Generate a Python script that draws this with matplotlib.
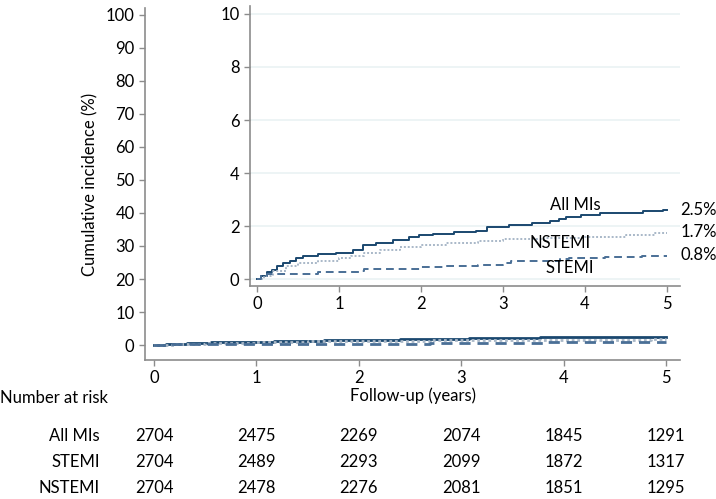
import matplotlib.pyplot as plt
from matplotlib.transforms import blended_transform_factory

plt.rcParams['font.family'] = ['Lato', 'DejaVu Sans']

# -------- data -------- #
years = [0, 1, 2, 3, 4, 5]
groups = ['All MIs', 'STEMI', 'NSTEMI']
end_labels = ['2.5%', '1.7%', '0.8%']

# step curves: event times (years) and cumulative incidence (%)
all_t = [0, 0.05, 0.12, 0.18, 0.24, 0.32, 0.40, 0.48, 0.56, 0.75, 0.97, 1.17, 1.29,
         1.45, 1.66, 1.86, 1.98, 2.15, 2.40, 2.67, 2.80, 3.08, 3.35, 3.57, 3.68,
         3.77, 3.95, 4.18, 4.71, 4.95, 5.0]
all_y = [0, 0.12, 0.25, 0.35, 0.48, 0.62, 0.70, 0.79, 0.88, 0.93, 0.98, 1.10, 1.29,
         1.38, 1.48, 1.58, 1.65, 1.70, 1.76, 1.83, 1.95, 2.04, 2.10, 2.20, 2.28,
         2.35, 2.40, 2.48, 2.56, 2.59, 2.59]

stemi_t = [0, 0.05, 0.12, 0.75, 1.25, 1.30, 1.60, 2.00, 2.30, 2.70, 3.00, 3.10,
           3.70, 3.80, 4.25, 4.70, 5.0]
stemi_y = [0, 0.10, 0.20, 0.25, 0.30, 0.38, 0.40, 0.45, 0.48, 0.52, 0.60, 0.68,
           0.75, 0.80, 0.83, 0.88, 0.88]

nstemi_t = [0, 0.08, 0.20, 0.35, 0.50, 0.75, 1.00, 1.15, 1.30, 1.50, 1.75, 2.00,
            2.30, 2.70, 3.00, 3.50, 4.00, 4.50, 4.85, 5.0]
nstemi_y = [0, 0.12, 0.30, 0.48, 0.60, 0.70, 0.80, 0.88, 1.00, 1.10, 1.20, 1.30,
            1.36, 1.45, 1.50, 1.55, 1.60, 1.65, 1.75, 1.75]

risk_all = [2704, 2475, 2269, 2074, 1845, 1291]
risk_stemi = [2704, 2489, 2293, 2099, 1872, 1317]
risk_nstemi = [2704, 2478, 2276, 2081, 1851, 1295]

# -------- style -------- #
navy = '#1a476f'
dash_col = '#4a6f96'
dot_col = '#a9b8c8'
axis_col = '#8c8c8c'
grid_col = '#eaf2f3'
fs = 12


def style_axes(ax):
    for side in ['top', 'right']:
        ax.spines[side].set_visible(False)
    for side in ['left', 'bottom']:
        ax.spines[side].set_color(axis_col)
        ax.spines[side].set_linewidth(1.2)
    ax.tick_params(colors=axis_col, labelcolor='black', labelsize=fs,
                   length=4, width=1)


def draw_curves(ax, lw):
    ax.plot(all_t, all_y, drawstyle='steps-post', color=navy, lw=lw)
    ax.plot(nstemi_t, nstemi_y, drawstyle='steps-post', color=dot_col, lw=lw,
            linestyle=(0, (1, 1)))
    ax.plot(stemi_t, stemi_y, drawstyle='steps-post', color=dash_col, lw=lw,
            linestyle=(0, (4, 2.5)))


fig = plt.figure(figsize=(7.16, 4.99), dpi=100)

# main axes
ax = fig.add_axes([145 / 716, 1 - 360 / 499, 535 / 716, 352 / 499])
draw_curves(ax, 2.0)
ax.set_xlim(-0.088, 5.137)
ax.set_ylim(-4.5, 102)
ax.set_xticks(years)
ax.set_yticks(range(0, 101, 10))
ax.set_xlabel('Follow-up (years)', fontsize=fs, labelpad=1)
ax.set_ylabel('Cumulative incidence (%)', fontsize=fs, labelpad=5)
style_axes(ax)

# inset
ins = fig.add_axes([250 / 716, 1 - 286 / 499, 430 / 716, 280 / 499])
ins.set_facecolor('white')
ins.grid(axis='y', color=grid_col, lw=1.2)
ins.set_axisbelow(True)
draw_curves(ins, 1.4)
ins.set_xlim(-0.085, 5.16)
ins.set_ylim(-0.26, 10.3)
ins.set_xticks(years)
ins.set_yticks(range(0, 11, 2))
style_axes(ins)

ins.text(3.88, 2.79, 'All MIs', fontsize=fs, ha='center', va='center')
ins.text(3.70, 1.36, 'NSTEMI', fontsize=fs, ha='center', va='center')
ins.text(3.82, 0.42, 'STEMI', fontsize=fs, ha='center', va='center')
for lab, yv in zip(end_labels, [2.6, 1.77, 0.9]):
    ins.text(5.165, yv, lab, fontsize=fs, ha='left', va='center', clip_on=False)

# number at risk table
tr = blended_transform_factory(ax.transData, fig.transFigure)
fig.text(0.0, 1 - 398 / 499, 'Number at risk', fontsize=fs, ha='left', va='center')
rows = [risk_all, risk_stemi, risk_nstemi]
row_y = [1 - 436 / 499, 1 - 462 / 499, 1 - 488 / 499]
for name, vals, yy in zip(groups, rows, row_y):
    fig.text(100 / 716, yy, name, fontsize=fs, ha='right', va='center')
    for xv, v in zip(years, vals):
        ax.text(xv, yy, str(v), fontsize=fs, ha='center', va='center',
                transform=tr, clip_on=False)

fig.savefig('out.png', dpi=100)
